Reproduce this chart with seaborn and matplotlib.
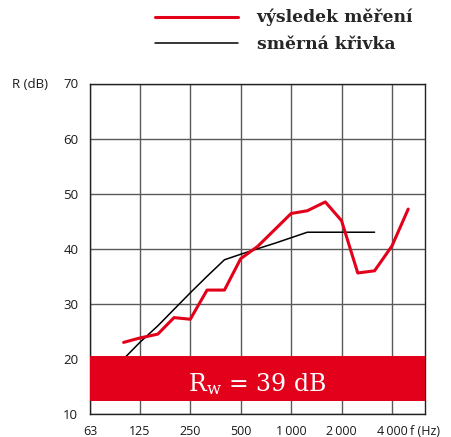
import matplotlib
matplotlib.use("Agg")
import matplotlib.pyplot as plt
from matplotlib.lines import Line2D
from matplotlib.ticker import FixedLocator, FixedFormatter, NullLocator
import seaborn as sns

# Third-octave band centre frequencies and measured sound reduction index R (dB)
freq_measured = [100, 125, 160, 200, 250, 315, 400, 500, 630, 800,
                 1000, 1250, 1600, 2000, 2500, 3150, 4000, 5000]
r_measured = [23.0, 23.8, 24.5, 27.5, 27.2, 32.5, 32.5, 38.2, 40.4, 43.5,
              46.4, 46.9, 48.5, 45.1, 35.6, 36.0, 40.5, 47.2]

# Shifted reference curve (ISO 717-1), 100 Hz - 3150 Hz
freq_reference = [100, 125, 160, 200, 250, 315, 400, 500,
                  630, 800, 1000, 1250, 1600, 2000, 2500, 3150]
r_reference = [20, 23, 26, 29, 32, 35, 38, 39,
               40, 41, 42, 43, 43, 43, 43, 43]

x_ticks = [63, 125, 250, 500, 1000, 2000, 4000]
x_tick_labels = ["63", "125", "250", "500", "1\u2009000", "2\u2009000", "4\u2009000"]
y_ticks = [10, 20, 30, 40, 50, 60, 70]
rw_value = 39
legend_labels = ["výsledek měření", "směrná křivka"]

RED = "#E2001A"
GRID = "#5a5a5a"
TEXT = "#1a1a1a"

sns.set_theme(style="white")
plt.rcParams["font.family"] = ["Open Sans", "DejaVu Sans"]
plt.rcParams["mathtext.fontset"] = "dejavuserif"

W, H = 451, 437
fig = plt.figure(figsize=(W / 100, H / 100), dpi=100)
ax = fig.add_axes([90 / W, 1 - 414 / H, 335 / W, 330.5 / H])
ax.set_xscale("log")

sns.lineplot(x=freq_reference, y=r_reference, color="black", linewidth=1.1,
             ax=ax, zorder=3)
sns.lineplot(x=freq_measured, y=r_measured, color=RED, linewidth=2.2,
             ax=ax, zorder=4)

# Weighted index band
ax.axhspan(12.3, 20.6, color=RED, linewidth=0, zorder=5)
ax.text(0.4985, 0.0705, r"R$_{\mathrm{w}}$ = %d dB" % rw_value,
        transform=ax.transAxes, ha="center", va="baseline",
        color="white", fontsize=17, family="DejaVu Serif", zorder=6)

ax.set_xlim(63, 6300)
ax.set_ylim(10, 70)
ax.xaxis.set_major_locator(FixedLocator(x_ticks))
ax.xaxis.set_major_formatter(FixedFormatter(x_tick_labels))
ax.xaxis.set_minor_locator(NullLocator())
ax.set_yticks(y_ticks)
ax.grid(True, color=GRID, linewidth=1.0, zorder=1)
ax.set_axisbelow(True)
ax.tick_params(axis="x", length=0, pad=8, labelsize=9, colors=TEXT)
ax.tick_params(axis="y", length=0, pad=8.5, labelsize=9.5, colors=TEXT)
for s in ax.spines.values():
    s.set_visible(True)
    s.set_color("#222222")
    s.set_linewidth(1.0)
ax.set_xlabel("")
ax.set_ylabel("")

fig.text(12 / W, 1 - 84 / H, "R (dB)", ha="left", va="center",
         fontsize=9.5, color=TEXT)
fig.text(410 / W, 1 - 425 / H, "f (Hz)", ha="left", va="top",
         fontsize=9, color=TEXT)

handles = [Line2D([], [], color=RED, linewidth=2.2),
           Line2D([], [], color="black", linewidth=1.1)]
fig.legend(handles, legend_labels, loc="upper left",
           bbox_to_anchor=(155 / W, 1 - 9 / H), frameon=False,
           borderpad=0, borderaxespad=0, handlelength=4.85,
           handletextpad=1.1, labelspacing=0.57,
           prop={"family": "DejaVu Serif", "weight": "bold", "size": 12.3})

fig.savefig("out.png", dpi=100)
